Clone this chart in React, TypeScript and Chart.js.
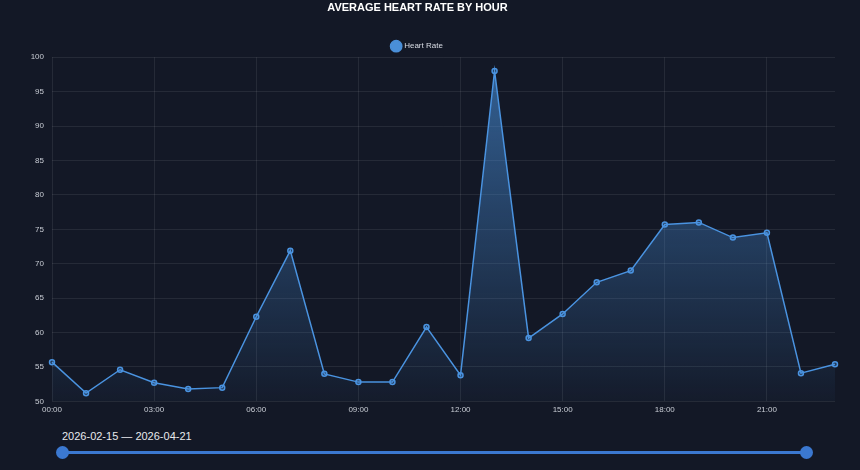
import { useEffect, useRef } from 'react';
import { Chart, registerables } from 'chart.js';

Chart.register(...registerables);

const hours = [
  '00:00', '01:00', '02:00', '03:00', '04:00', '05:00', '06:00', '07:00',
  '08:00', '09:00', '10:00', '11:00', '12:00', '13:00', '14:00', '15:00',
  '16:00', '17:00', '18:00', '19:00', '20:00', '21:00', '22:00', '23:00',
];

const heartRate = [
  55.7, 51.2, 54.6, 52.7, 51.8, 52.0, 62.3, 71.9,
  54.0, 52.8, 52.8, 60.8, 53.8, 98.0, 59.2, 62.7,
  67.3, 69.0, 75.7, 76.0, 73.8, 74.5, 54.1, 55.4,
];

const dateRange = '2026-02-15 — 2026-04-21';

const BG = '#131826';
const LINE = '#4a93e0';
const GRID = 'rgba(255,255,255,0.08)';
const FONT = 'Helvetica, Arial, "Liberation Sans", sans-serif';

// the legend keeps a fixed 10px gap under itself, trim it a little
const legendGap = {
  id: 'legendGap',
  beforeLayout(chart: any) {
    const lg = chart.legend;
    if (lg && !lg._trimmed) {
      const fit = lg.fit.bind(lg);
      lg.fit = () => {
        fit();
        lg.height -= 3;
      };
      lg._trimmed = true;
    }
  },
};

const HeartRateChart = () => {
  const chartRef = useRef<HTMLCanvasElement>(null);
  const chartInstanceRef = useRef<Chart | null>(null);

  useEffect(() => {
    if (chartInstanceRef.current) {
      chartInstanceRef.current.destroy();
    }
    const ctx = chartRef.current?.getContext('2d');
    if (!ctx) return;

    chartInstanceRef.current = new Chart(ctx, {
      type: 'line',
      data: {
        labels: hours,
        datasets: [
          {
            label: 'Heart Rate',
            data: heartRate,
            borderColor: LINE,
            borderWidth: 1.5,
            pointRadius: 2.5,
            pointBorderWidth: 1.5,
            pointBorderColor: LINE,
            pointBackgroundColor: 'rgba(74,147,224,0.25)',
            tension: 0,
            fill: 'start',
            backgroundColor: (context: any) => {
              const area = context.chart.chartArea;
              if (!area) return 'rgba(74,147,224,0.2)';
              const g = context.chart.ctx.createLinearGradient(0, area.top, 0, area.bottom);
              g.addColorStop(0, 'rgba(74,147,224,0.6)');
              g.addColorStop(1, 'rgba(74,147,224,0.03)');
              return g;
            },
          },
        ],
      },
      options: {
        responsive: true,
        maintainAspectRatio: false,
        animation: false,
        layout: { padding: { left: 0, right: 25, top: 0, bottom: 1 } },
        plugins: {
          title: {
            display: true,
            text: 'AVERAGE HEART RATE BY HOUR',
            color: '#ffffff',
            font: { family: FONT, size: 11, weight: 'bold' },
            padding: { top: 1, bottom: 24 },
          },
          legend: {
            position: 'top',
            labels: {
              color: '#d8dce4',
              font: { family: FONT, size: 8 },
              usePointStyle: true,
              pointStyle: 'circle',
              boxHeight: 9,
              padding: 4,
              generateLabels: (chart: any) =>
                Chart.defaults.plugins.legend.labels
                  .generateLabels(chart)
                  .map((l: any) => ({ ...l, fillStyle: '#4a8fd8', strokeStyle: '#4a8fd8' })),
            },
          },
          tooltip: { enabled: false },
        },
        scales: {
          x: {
            grid: {
              color: (c: any) => (c.index % 3 === 0 ? GRID : 'transparent'),
              drawTicks: false,
            },
            border: { display: false },
            ticks: {
              color: '#c8ccd4',
              font: { family: FONT, size: 8 },
              autoSkip: false,
              maxRotation: 0,
              padding: 4,
              callback: (_v: any, i: number) => (i % 3 === 0 ? hours[i] : ''),
            },
          },
          y: {
            min: 50,
            max: 100,
            grid: { color: GRID, drawTicks: false },
            border: { display: false },
            ticks: {
              stepSize: 5,
              color: '#c8ccd4',
              font: { family: FONT, size: 8 },
              padding: 8,
            },
            afterFit: (axis: any) => {
              axis.width = 52;
            },
          },
        },
      },
      plugins: [legendGap],
    });

    return () => {
      if (chartInstanceRef.current) {
        chartInstanceRef.current.destroy();
        chartInstanceRef.current = null;
      }
    };
  }, []);

  return <canvas ref={chartRef}></canvas>;
};

export default function App() {
  return (
    <div
      style={{
        position: 'fixed',
        inset: 0,
        background: BG,
        fontFamily: FONT,
      }}
    >
      <div style={{ position: 'absolute', left: 0, top: 0, width: 860, height: 420 }}>
        <HeartRateChart />
      </div>
      <div
        style={{
          position: 'absolute',
          left: 62,
          top: 430,
          color: '#e8e8ec',
          fontSize: 11,
          whiteSpace: 'nowrap',
        }}
      >
        {dateRange}
      </div>
      <div
        style={{
          position: 'absolute',
          left: 62,
          width: 744,
          top: 451,
          height: 3,
          background: '#3b78d0',
        }}
      />
      {[62, 806].map((x) => (
        <div
          key={x}
          style={{
            position: 'absolute',
            left: x - 6.5,
            top: 446,
            width: 13,
            height: 13,
            borderRadius: '50%',
            background: '#3b78d0',
          }}
        />
      ))}
    </div>
  );
}
